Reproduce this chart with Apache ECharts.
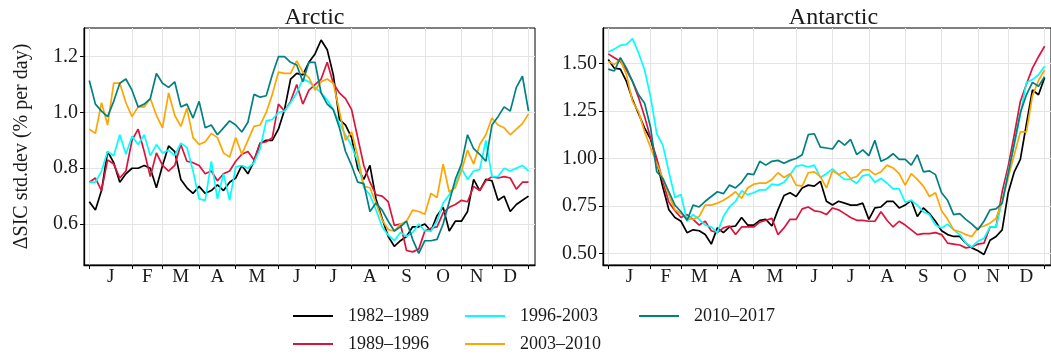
<!DOCTYPE html>
<html>
<head>
<meta charset="utf-8">
<script src="https://cdn.jsdelivr.net/npm/echarts@6/dist/echarts.min.js"></script>
<style>
  html, body { margin: 0; padding: 0; background: #fff; }
  #chart { width: 1051px; height: 358px; }
</style>
</head>
<body>
<div id="chart"></div>
<script>
// pentad index 0..72 on x, std.dev of daily SIC change on y
const periods = ['1982–1989', '1989–1996', '1996-2003', '2003–2010', '2010–2017']
const colors = ['#000000', '#dc143c', '#00ffff', '#ffa500', '#008080']
const monthLabels = ['J', 'F', 'M', 'A', 'M', 'J', 'J', 'A', 'S', 'O', 'N', 'D']
const monthEdges = [0, 7, 12, 18, 24, 31, 37, 43, 49, 55, 61, 66, 72]
const arcticTicks = [0.6, 0.8, 1.0, 1.2]
const antarcticTicks = [0.5, 0.75, 1.0, 1.25, 1.5]

const arctic8289 = [0.68, 0.65, 0.72, 0.86, 0.82, 0.75, 0.78, 0.80, 0.80, 0.81, 0.80, 0.73, 0.81, 0.88, 0.86, 0.76, 0.73, 0.71, 0.735, 0.71, 0.72, 0.74, 0.72, 0.75, 0.765,
  0.81, 0.78, 0.825, 0.89, 0.90, 0.90, 0.94, 1.01, 1.12, 1.14, 1.135, 1.18, 1.21, 1.26, 1.225, 1.135, 0.975, 0.955, 0.91, 0.80, 0.76, 0.81, 0.69, 0.62,
  0.555, 0.52, 0.54, 0.555, 0.59, 0.59, 0.60, 0.575, 0.63, 0.66, 0.575, 0.61, 0.61, 0.645, 0.76, 0.72, 0.76, 0.755, 0.685, 0.70, 0.645, 0.67, 0.685, 0.70]
const arctic8996 = [0.75, 0.765, 0.72, 0.83, 0.815, 0.765, 0.79, 0.90, 0.94, 0.86, 0.77, 0.855, 0.81, 0.79, 0.81, 0.885, 0.825, 0.82, 0.81, 0.78, 0.79, 0.755, 0.78, 0.79, 0.825,
  0.85, 0.86, 0.83, 0.89, 0.895, 0.91, 1.03, 1.005, 1.04, 1.10, 1.03, 1.08, 1.10, 1.12, 1.18, 1.105, 1.07, 1.05, 1.01, 0.91, 0.81, 0.75, 0.705, 0.70,
  0.68, 0.595, 0.60, 0.505, 0.50, 0.51, 0.575, 0.585, 0.59, 0.64, 0.66, 0.67, 0.685, 0.68, 0.735, 0.72, 0.755, 0.77, 0.765, 0.77, 0.765, 0.725, 0.75, 0.75]
const arctic9603 = [0.75, 0.75, 0.79, 0.86, 0.845, 0.92, 0.85, 0.915, 0.885, 0.92, 0.845, 0.885, 0.855, 0.865, 0.845, 0.89, 0.875, 0.79, 0.69, 0.685, 0.825, 0.69, 0.78, 0.685, 0.805,
  0.81, 0.80, 0.82, 0.87, 0.97, 0.975, 1.0, 1.005, 1.035, 1.07, 1.12, 1.11, 1.09, 1.07, 1.045, 1.01, 0.96, 0.92, 0.88, 0.825, 0.73, 0.705, 0.65, 0.59,
  0.56, 0.54, 0.57, 0.555, 0.57, 0.60, 0.575, 0.575, 0.61, 0.675, 0.705, 0.74, 0.80, 0.76, 0.79, 0.795, 0.90, 0.77, 0.77, 0.80, 0.79, 0.80, 0.81, 0.79]
const arctic0310 = [0.94, 0.925, 1.035, 0.955, 1.105, 1.105, 1.035, 0.985, 1.02, 1.02, 1.05, 0.99, 0.945, 1.07, 0.99, 0.95, 1.015, 0.91, 0.885, 0.895, 0.925, 0.91, 0.855, 0.84, 0.91,
  0.85, 0.90, 0.95, 0.955, 1.0, 1.065, 1.145, 1.14, 1.14, 1.185, 1.145, 1.125, 1.08, 1.11, 1.12, 1.105, 1.005, 0.90, 0.93, 0.845, 0.735, 0.73, 0.675, 0.615,
  0.58, 0.575, 0.60, 0.61, 0.65, 0.645, 0.635, 0.71, 0.695, 0.815, 0.715, 0.73, 0.79, 0.865, 0.815, 0.885, 0.92, 0.98, 0.955, 0.945, 0.92, 0.94, 0.96, 0.995]
const arctic1017 = [1.115, 1.03, 1.005, 0.985, 1.04, 1.105, 1.12, 1.08, 1.02, 1.03, 1.05, 1.14, 1.105, 1.09, 1.11, 1.02, 1.03, 0.98, 1.04, 0.945, 0.955, 0.92, 0.945, 0.97, 0.955,
  0.93, 0.965, 1.065, 1.055, 1.06, 1.135, 1.20, 1.20, 1.18, 1.17, 1.11, 1.18, 1.18, 1.07, 1.03, 1.01, 0.945, 0.86, 0.81, 0.75, 0.745, 0.645, 0.675, 0.65,
  0.61, 0.575, 0.59, 0.61, 0.545, 0.495, 0.54, 0.54, 0.545, 0.60, 0.68, 0.76, 0.815, 0.92, 0.87, 0.85, 0.825, 0.955, 0.985, 1.02, 1.005, 1.09, 1.13, 1.005]

const antarctic8289 = [1.52, 1.475, 1.47, 1.405, 1.31, 1.235, 1.16, 1.10, 0.985, 0.85, 0.73, 0.69, 0.67, 0.61, 0.625, 0.62, 0.60, 0.55, 0.635, 0.61, 0.64, 0.645, 0.69, 0.65, 0.65,
  0.675, 0.68, 0.645, 0.73, 0.805, 0.82, 0.80, 0.845, 0.86, 0.855, 0.88, 0.775, 0.755, 0.775, 0.765, 0.755, 0.755, 0.765, 0.68, 0.74, 0.745, 0.775, 0.775, 0.74,
  0.755, 0.78, 0.695, 0.74, 0.71, 0.67, 0.62, 0.60, 0.59, 0.59, 0.555, 0.53, 0.515, 0.495, 0.57, 0.59, 0.625, 0.82, 0.93, 0.995, 1.18, 1.36, 1.335, 1.425]
const antarctic8996 = [1.55, 1.53, 1.51, 1.465, 1.405, 1.32, 1.22, 1.105, 1.0, 0.88, 0.77, 0.725, 0.69, 0.705, 0.68, 0.65, 0.67, 0.62, 0.61, 0.635, 0.645, 0.60, 0.64, 0.64, 0.64,
  0.665, 0.675, 0.685, 0.60, 0.635, 0.68, 0.68, 0.735, 0.745, 0.725, 0.72, 0.705, 0.74, 0.73, 0.71, 0.69, 0.675, 0.675, 0.67, 0.67, 0.72, 0.675, 0.64, 0.67,
  0.65, 0.625, 0.60, 0.605, 0.605, 0.61, 0.60, 0.555, 0.55, 0.545, 0.53, 0.535, 0.55, 0.555, 0.64, 0.64, 0.825, 0.96, 1.125, 1.30, 1.39, 1.475, 1.535, 1.59]
const antarctic9603 = [1.56, 1.575, 1.595, 1.60, 1.63, 1.555, 1.465, 1.32, 1.13, 1.07, 0.93, 0.795, 0.81, 0.67, 0.705, 0.68, 0.65, 0.64, 0.61, 0.695, 0.745, 0.775, 0.83, 0.81, 0.82,
  0.835, 0.835, 0.865, 0.86, 0.875, 0.915, 0.96, 0.965, 0.955, 0.965, 0.90, 0.92, 0.945, 0.915, 0.89, 0.89, 0.87, 0.91, 0.915, 0.875, 0.895, 0.87, 0.84, 0.84,
  0.77, 0.78, 0.755, 0.72, 0.705, 0.65, 0.635, 0.655, 0.625, 0.60, 0.555, 0.535, 0.565, 0.58, 0.64, 0.64, 0.775, 0.93, 1.07, 1.23, 1.40, 1.415, 1.44, 1.485]
const antarctic0310 = [1.51, 1.495, 1.52, 1.44, 1.30, 1.245, 1.14, 1.055, 0.975, 0.895, 0.81, 0.73, 0.71, 0.685, 0.68, 0.695, 0.755, 0.755, 0.765, 0.78, 0.80, 0.825, 0.79, 0.845, 0.865,
  0.87, 0.87, 0.89, 0.925, 0.90, 0.92, 0.86, 0.855, 0.925, 0.93, 0.905, 0.845, 0.935, 0.915, 0.93, 0.895, 0.905, 0.94, 0.94, 0.915, 0.93, 0.965, 0.95, 0.92,
  0.86, 0.92, 0.89, 0.855, 0.80, 0.82, 0.725, 0.68, 0.625, 0.615, 0.60, 0.59, 0.635, 0.645, 0.66, 0.685, 0.775, 0.90, 1.02, 1.14, 1.14, 1.33, 1.41, 1.465]
const antarctic1017 = [1.47, 1.46, 1.53, 1.475, 1.405, 1.335, 1.29, 1.16, 0.93, 0.895, 0.825, 0.755, 0.72, 0.675, 0.755, 0.745, 0.775, 0.80, 0.825, 0.815, 0.86, 0.845, 0.875, 0.92, 0.915,
  0.985, 0.965, 0.985, 0.99, 0.975, 0.99, 1.0, 1.02, 1.125, 1.13, 1.06, 1.055, 1.05, 1.095, 1.07, 1.10, 1.02, 1.045, 1.015, 1.095, 0.985, 1.0, 1.025, 0.995,
  0.995, 0.965, 1.02, 0.93, 0.935, 0.915, 0.82, 0.78, 0.705, 0.71, 0.68, 0.655, 0.625, 0.67, 0.73, 0.735, 0.765, 0.92, 1.08, 1.24, 1.335, 1.40, 1.38, 1.43]

const arcticSets = [arctic8289, arctic8996, arctic9603, arctic0310, arctic1017]
const antarcticSets = [antarctic8289, antarctic8996, antarctic9603, antarctic0310, antarctic1017]

// month letters sit halfway between the month boundaries
const monthMids = monthLabels.map((m, i) => (monthEdges[i] + monthEdges[i + 1]) / 2)

const serif = '"Liberation Serif", "DejaVu Serif", serif'
const textColor = '#1a1a1a'
const gridColor = '#e4e4e4'

function monthFor(v) {
  let best = 0
  monthMids.forEach((m, i) => {
    if (Math.abs(m - v) < Math.abs(monthMids[best] - v)) best = i
  })
  return monthLabels[best]
}

function xAxisFor(gridIndex) {
  return {
    type: 'value',
    gridIndex: gridIndex,
    min: -0.87,
    max: 73.06,
    axisLine: { onZero: false, lineStyle: { color: '#000', width: 1.3 } },
    axisTick: { customValues: monthEdges, length: 4, lineStyle: { color: '#000' } },
    axisLabel: {
      customValues: monthMids,
      formatter: monthFor,
      margin: 3,
      color: textColor,
      fontFamily: serif,
      fontSize: 19
    },
    splitLine: { show: true, lineStyle: { color: gridColor, width: 1 } }
  }
}

function yAxisFor(gridIndex, min, max, ticks, digits, name) {
  return {
    type: 'value',
    gridIndex: gridIndex,
    min: min,
    max: max,
    name: name,
    nameLocation: 'middle',
    nameRotate: 90,
    nameGap: 52,
    nameTextStyle: { color: textColor, fontFamily: serif, fontSize: 20 },
    axisLine: { show: true, onZero: false, lineStyle: { color: '#000', width: 1.3 } },
    axisTick: { show: true, customValues: ticks, length: 4, lineStyle: { color: '#000' } },
    axisLabel: {
      customValues: ticks,
      formatter: v => v.toFixed(digits),
      margin: 6,
      color: textColor,
      fontFamily: serif,
      fontSize: 20
    },
    splitLine: { show: true, lineStyle: { color: gridColor, width: 1 } }
  }
}

const series = []
arcticSets.forEach((vals, k) => {
  series.push({
    name: periods[k],
    type: 'line',
    xAxisIndex: 0,
    yAxisIndex: 0,
    symbol: 'none',
    lineStyle: { color: colors[k], width: 1.7 },
    itemStyle: { color: colors[k] },
    data: vals.map((v, i) => [i, v])
  })
})
antarcticSets.forEach((vals, k) => {
  series.push({
    name: periods[k],
    type: 'line',
    xAxisIndex: 1,
    yAxisIndex: 1,
    symbol: 'none',
    lineStyle: { color: colors[k], width: 1.7 },
    itemStyle: { color: colors[k] },
    data: vals.map((v, i) => [i, v])
  })
})

function legendColumn(names, left) {
  return {
    data: names,
    orient: 'vertical',
    left: left,
    top: 306,
    padding: 0,
    icon: 'rect',
    itemWidth: 40,
    itemHeight: 2,
    itemGap: 8,
    selectedMode: false,
    textStyle: {
      color: textColor,
      fontFamily: serif,
      fontSize: 18,
      lineHeight: 20,
      padding: [0, 0, 0, 10]
    }
  }
}

const chart = echarts.init(document.getElementById('chart'), null, { renderer: 'canvas' })
chart.setOption({
  animation: false,
  backgroundColor: '#fff',
  title: [
    {
      text: 'Arctic',
      left: 309.5,
      top: 1,
      textAlign: 'center',
      textStyle: { color: textColor, fontFamily: serif, fontSize: 24, fontWeight: 'normal' }
    },
    {
      text: 'Antarctic',
      left: 828.5,
      top: 1,
      textAlign: 'center',
      textStyle: { color: textColor, fontFamily: serif, fontSize: 24, fontWeight: 'normal' }
    }
  ],
  legend: [
    legendColumn([periods[0], periods[1]], 293),
    legendColumn([periods[2], periods[3]], 465),
    legendColumn([periods[4]], 639)
  ],
  grid: [
    { left: 84, top: 28, width: 451, height: 237, show: true, borderColor: '#000', borderWidth: 1, backgroundColor: 'transparent' },
    { left: 603, top: 28, width: 451, height: 237, show: true, borderColor: '#000', borderWidth: 1, backgroundColor: 'transparent' }
  ],
  xAxis: [xAxisFor(0), xAxisFor(1)],
  yAxis: [
    yAxisFor(0, 0.453, 1.303, arcticTicks, 1, 'ΔSIC std.dev (% per day)'),
    yAxisFor(1, 0.44, 1.686, antarcticTicks, 2, '')
  ],
  series: series
})
</script>
</body>
</html>
